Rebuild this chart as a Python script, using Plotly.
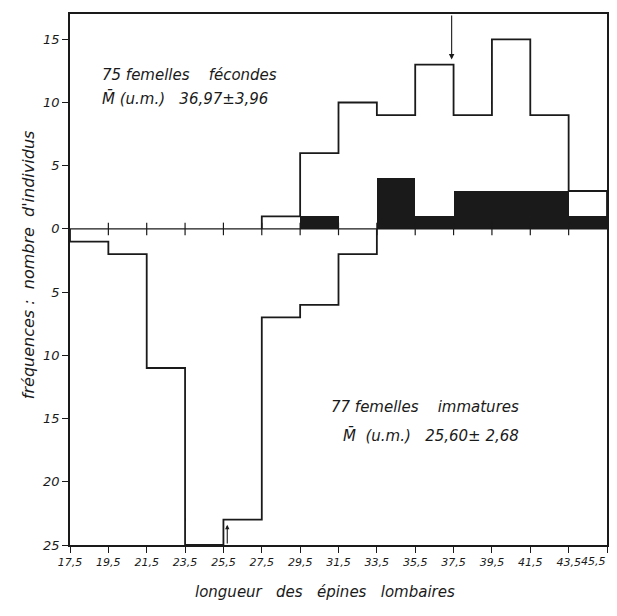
import plotly.graph_objects as go

# ---- data ----
edges_fec = [27.5, 29.5, 31.5, 33.5, 35.5, 37.5, 39.5, 41.5, 43.5, 45.5]
counts_fec = [1, 6, 10, 9, 13, 9, 15, 9, 3]          # 75 femelles fécondes (outline)
centers_black = [30.5, 32.5, 34.5, 36.5, 38.5, 40.5, 42.5, 44.5]
counts_black = [1, 0, 4, 1, 3, 3, 3, 1]              # black sub-bars

edges_imm = [17.5, 19.5, 21.5, 23.5, 25.5, 27.5, 29.5, 31.5, 33.5]
counts_imm = [1, 2, 11, 25, 23, 7, 6, 2]              # 77 femelles immatures (plotted downward)

tick_x = [17.5, 19.5, 21.5, 23.5, 25.5, 27.5, 29.5, 31.5, 33.5, 35.5, 37.5, 39.5, 41.5, 43.5, 45.5]
tick_x_labels = ["17,5", "19,5", "21,5", "23,5", "25,5", "27,5", "29,5", "31,5", "33,5",
                 "35,5", "37,5", "39,5", "41,5", "43,5", "45,5"]
tick_y = [15, 10, 5, 0, -5, -10, -15, -20, -25]
tick_y_labels = ["15", "10", "5", "0", "5", "10", "15", "20", "25"]
zero_ticks_x = [19.5, 21.5, 23.5, 25.5, 27.5, 29.5, 31.5, 33.5, 35.5, 37.5, 39.5, 41.5, 43.5]

mean_fec = 37.4
mean_imm = 25.7

FONT = "DejaVu Sans"
ink = "#1a1a1a"


def step_xy(edges, counts, sign=1):
    xs = [edges[0]]
    ys = [0]
    for e, c in zip(edges[:-1], counts):
        xs.append(e)
        ys.append(sign * c)
    xs.append(edges[-1])
    ys.append(sign * counts[-1])
    xs.append(edges[-1])
    ys.append(0)
    return xs, ys


fig = go.Figure()

# black filled bars
fig.add_trace(go.Bar(x=centers_black, y=counts_black, width=2,
                     marker=dict(color=ink, line=dict(width=0)),
                     showlegend=False, hoverinfo="skip"))

# zero line with its small ticks
fig.add_trace(go.Scatter(x=[tick_x[0], tick_x[-1]], y=[0, 0], mode="lines",
                         line=dict(color=ink, width=1.2), showlegend=False, hoverinfo="skip"))
fig.add_trace(go.Scatter(x=zero_ticks_x, y=[0] * len(zero_ticks_x), mode="markers",
                         marker=dict(symbol="line-ns", size=9, line=dict(color=ink, width=1.2)),
                         showlegend=False, hoverinfo="skip"))

xf, yf = step_xy(edges_fec, counts_fec, 1)
fig.add_trace(go.Scatter(x=xf, y=yf, mode="lines", line=dict(color=ink, width=1.8, shape="hv"),
                         showlegend=False, hoverinfo="skip"))
xi, yi = step_xy(edges_imm, counts_imm, -1)
fig.add_trace(go.Scatter(x=xi, y=yi, mode="lines", line=dict(color=ink, width=1.8, shape="hv"),
                         showlegend=False, hoverinfo="skip"))

tfont = dict(family=FONT, size=11, color=ink, style="italic")
yfont = dict(family=FONT, size=13, color=ink, style="italic")
afont = dict(family=FONT, size=15, color=ink, style="italic")
nb = "\u00a0"

# the last x label sits at the window edge: draw it right-aligned so it stays inside
shown_x_labels = tick_x_labels[:-1] + [""]

annots = [
    dict(x=19.05, y=12.2, text="75 femelles" + nb * 4 + "fécondes", xanchor="left", yanchor="middle",
         showarrow=False, font=afont),
    dict(x=19.05, y=10.3, text="M\u0304 (u.m.)" + nb * 3 + "36,97\u00b13,96", xanchor="left", yanchor="middle",
         showarrow=False, font=afont),
    dict(x=41.0, y=-14.1, text="77 femelles" + nb * 4 + "immatures", xanchor="right", yanchor="middle",
         showarrow=False, font=afont),
    dict(x=41.0, y=-16.3, text="M\u0304" + nb * 2 + "(u.m.)" + nb * 3 + "25,60\u00b1" + nb + "2,68",
         xanchor="right", yanchor="middle", showarrow=False, font=afont),
    dict(x=tick_x[-1], xref="x", y=0, yref="paper", xanchor="right", yanchor="top",
         xshift=1, yshift=-8, text=tick_x_labels[-1], showarrow=False, font=tfont),
    # axis titles
    dict(xref="paper", yref="paper", x=0.475, y=0, yshift=-47, xanchor="center", yanchor="middle",
         text="longueur" + nb * 3 + "des" + nb * 3 + "épines" + nb * 3 + "lombaires",
         showarrow=False, font=dict(family=FONT, size=15, color=ink, style="italic")),
    dict(xref="paper", yref="paper", x=0, xshift=-42, y=0.527, xanchor="center", yanchor="middle",
         textangle=-90,
         text="fréquences :" + nb * 2 + "nombre" + nb * 2 + "d'individus",
         showarrow=False, font=dict(family=FONT, size=16, color=ink, style="italic")),
    # arrows marking the means
    dict(x=mean_fec, y=13.4, ax=mean_fec, ay=17, axref="x", ayref="y", xref="x", yref="y",
         text="", showarrow=True, arrowhead=2, arrowsize=1, arrowwidth=1.1, arrowcolor=ink),
    dict(x=mean_imm, y=-23.4, ax=mean_imm, ay=-25, axref="x", ayref="y", xref="x", yref="y",
         text="", showarrow=True, arrowhead=2, arrowsize=0.8, arrowwidth=1.1, arrowcolor=ink),
]

# the page body has an 8 px default margin, so the figure is sized to fit the window
fig.update_layout(
    width=609, height=608,
    margin=dict(l=62, r=10, t=6, b=71),
    paper_bgcolor="white", plot_bgcolor="white",
    bargap=0, showlegend=False,
    annotations=annots,
    font=dict(family=FONT, color=ink),
)

fig.update_xaxes(range=[17.5, 45.5], tickvals=tick_x, ticktext=shown_x_labels,
                 showgrid=False, zeroline=False, showline=True, linecolor=ink, linewidth=1.6,
                 mirror=True, ticks="outside", ticklen=6, tickcolor=ink, tickwidth=1.2,
                 tickfont=tfont, automargin=False, ticklabeloverflow="allow")
fig.update_yaxes(range=[-25, 17], tickvals=tick_y, ticktext=tick_y_labels,
                 showgrid=False, zeroline=False, showline=True, linecolor=ink, linewidth=1.6,
                 mirror=True, ticks="outside", ticklen=6, tickcolor=ink, tickwidth=1.2,
                 tickfont=yfont, automargin=False, ticklabeloverflow="allow")

fig.write_html("out.html")
